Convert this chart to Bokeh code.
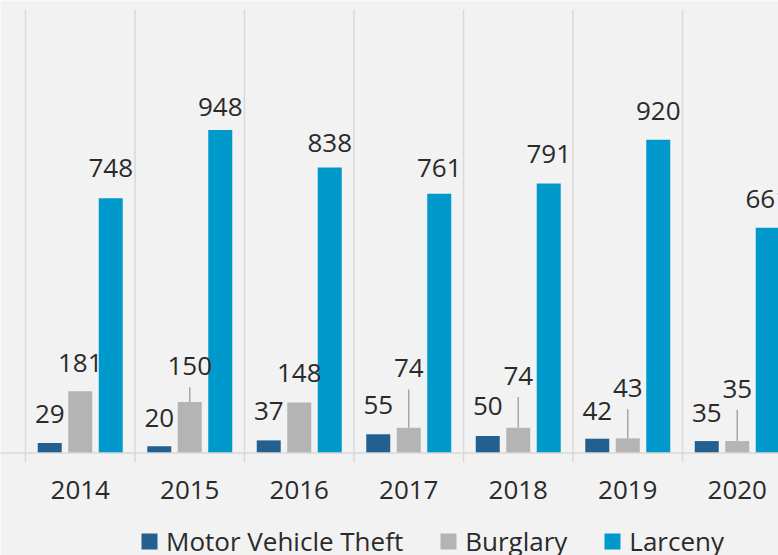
import numpy as np
from bokeh.plotting import figure
from bokeh.models import ColumnDataSource, Span, Range1d, Legend, LegendItem
from bokeh.core.properties import value
from bokeh.embed import file_html
from bokeh.resources import INLINE

# ---- data ----
years = ["2014", "2015", "2016", "2017", "2018", "2019", "2020"]
motor_vehicle_theft = [29, 20, 37, 55, 50, 42, 35]
burglary = [181, 150, 148, 74, 74, 43, 35]
larceny = [748, 948, 838, 761, 791, 920, 661]

# ---- label placement (screen px above bar top) ----
mvt_label_lift = [19.5, 19, 20, 20, 20, 18, 19]
burglary_label_lift = [19.3, 26.7, 19.7, 50.4, 42.7, 41, 43]
larceny_label_lift = [20.6, 14, 15, 16.7, 19.6, 19, 19.3]
leader_gap = 12  # px between leader line top and label
TEXT_SHIFT = 9.5  # renderer baseline correction

# ---- styles ----
C_MVT = "#23608f"
C_BUR = "#b4b4b4"
C_LAR = "#0099cc"
BG = "#f2f2f2"
GRID = "#d9d9d9"
TXT = "#2a2a2a"
FONT = "Open Sans"
FS = "26px"

W, H = 778, 555
BASE = 452.5         # baseline, px from top
GRID_TOP = 9         # px from top
GRID_BOT = 462       # px from top
px_per_unit = 0.3406
y0 = -(H - BASE) / px_per_unit
y1 = y0 + H / px_per_unit
cat_px = 109.5
x0 = -0.5 - 25 / cat_px
x1 = x0 + W / cat_px

idx = np.arange(len(years))
off = 30.5 / cat_px
bw = 24 / cat_px

p = figure(width=W, height=H, output_backend="svg", toolbar_location=None,
           x_range=Range1d(x0, x1), y_range=Range1d(y0, y1),
           x_axis_location=None, y_axis_location=None,
           min_border=0)
p.background_fill_color = BG
p.border_fill_color = BG
p.outline_line_color = None
p.xgrid.grid_line_color = None
p.ygrid.grid_line_color = None

src = ColumnDataSource(dict(
    xm=idx - off, xb=idx.astype(float), xl=idx + off,
    mvt=motor_vehicle_theft, bur=burglary, lar=larceny,
    mvt_t=[str(v) for v in motor_vehicle_theft],
    bur_t=[str(v) for v in burglary],
    lar_t=[str(v) for v in larceny],
    mvt_o=[-v - TEXT_SHIFT for v in mvt_label_lift],
    bur_o=[-v - TEXT_SHIFT for v in burglary_label_lift],
    lar_o=[-v - TEXT_SHIFT for v in larceny_label_lift],
))

# category boundary lines (gridlines continuing as tick marks)
bounds = list(np.arange(len(years) + 1) - 0.5)
g_top = (BASE - GRID_TOP) / px_per_unit
g_bot = -(GRID_BOT - BASE) / px_per_unit
p.segment(x0=bounds, y0=[g_bot] * len(bounds), x1=bounds, y1=[g_top] * len(bounds),
          line_color=GRID, line_width=1.5)
p.add_layout(Span(location=0, dimension="width", line_color=GRID, line_width=1.5))

r_m = p.vbar(x="xm", top="mvt", width=bw, source=src, fill_color=C_MVT, line_color=None)
r_b = p.vbar(x="xb", top="bur", width=bw, source=src, fill_color=C_BUR, line_color=None)
r_l = p.vbar(x="xl", top="lar", width=bw, source=src, fill_color=C_LAR, line_color=None)

# leader lines for burglary labels that were lifted
lx, ly0, ly1 = [], [], []
for i, (v, lift) in enumerate(zip(burglary, burglary_label_lift)):
    if lift > 25:
        lx.append(float(i))
        ly0.append(v)
        ly1.append(v + (lift - leader_gap) / px_per_unit)
p.segment(x0=lx, y0=ly0, x1=lx, y1=ly1, line_color="#a6a6a6", line_width=1.5)

for xf, yf, tf, of in [("xm", "mvt", "mvt_t", "mvt_o"),
                       ("xb", "bur", "bur_t", "bur_o"),
                       ("xl", "lar", "lar_t", "lar_o")]:
    p.text(x=xf, y=yf, text=tf, y_offset=of, source=src, text_align="center",
           text_baseline="alphabetic", text_font=value(FONT), text_font_size=FS,
           text_color=TXT)

# category (year) labels
p.text(x=list(idx.astype(float)), y=[0] * len(years), text=years,
       y_offset=46.5 - TEXT_SHIFT,
       text_align="center", text_baseline="alphabetic", text_font=value(FONT),
       text_font_size=FS, text_color=TXT)

legend = Legend(items=[LegendItem(label="Motor Vehicle Theft", renderers=[r_m]),
                       LegendItem(label="Burglary", renderers=[r_b]),
                       LegendItem(label="Larceny", renderers=[r_l])],
                orientation="horizontal", location=(139, -4),
                glyph_width=20, glyph_height=20, label_standoff=7, spacing=35,
                padding=0, margin=0, border_line_color=None,
                background_fill_alpha=0, label_text_font=FONT,
                label_text_font_size="26px", label_text_color=TXT)
p.add_layout(legend, "center")

open("out.html", "w").write(file_html(p, INLINE))
